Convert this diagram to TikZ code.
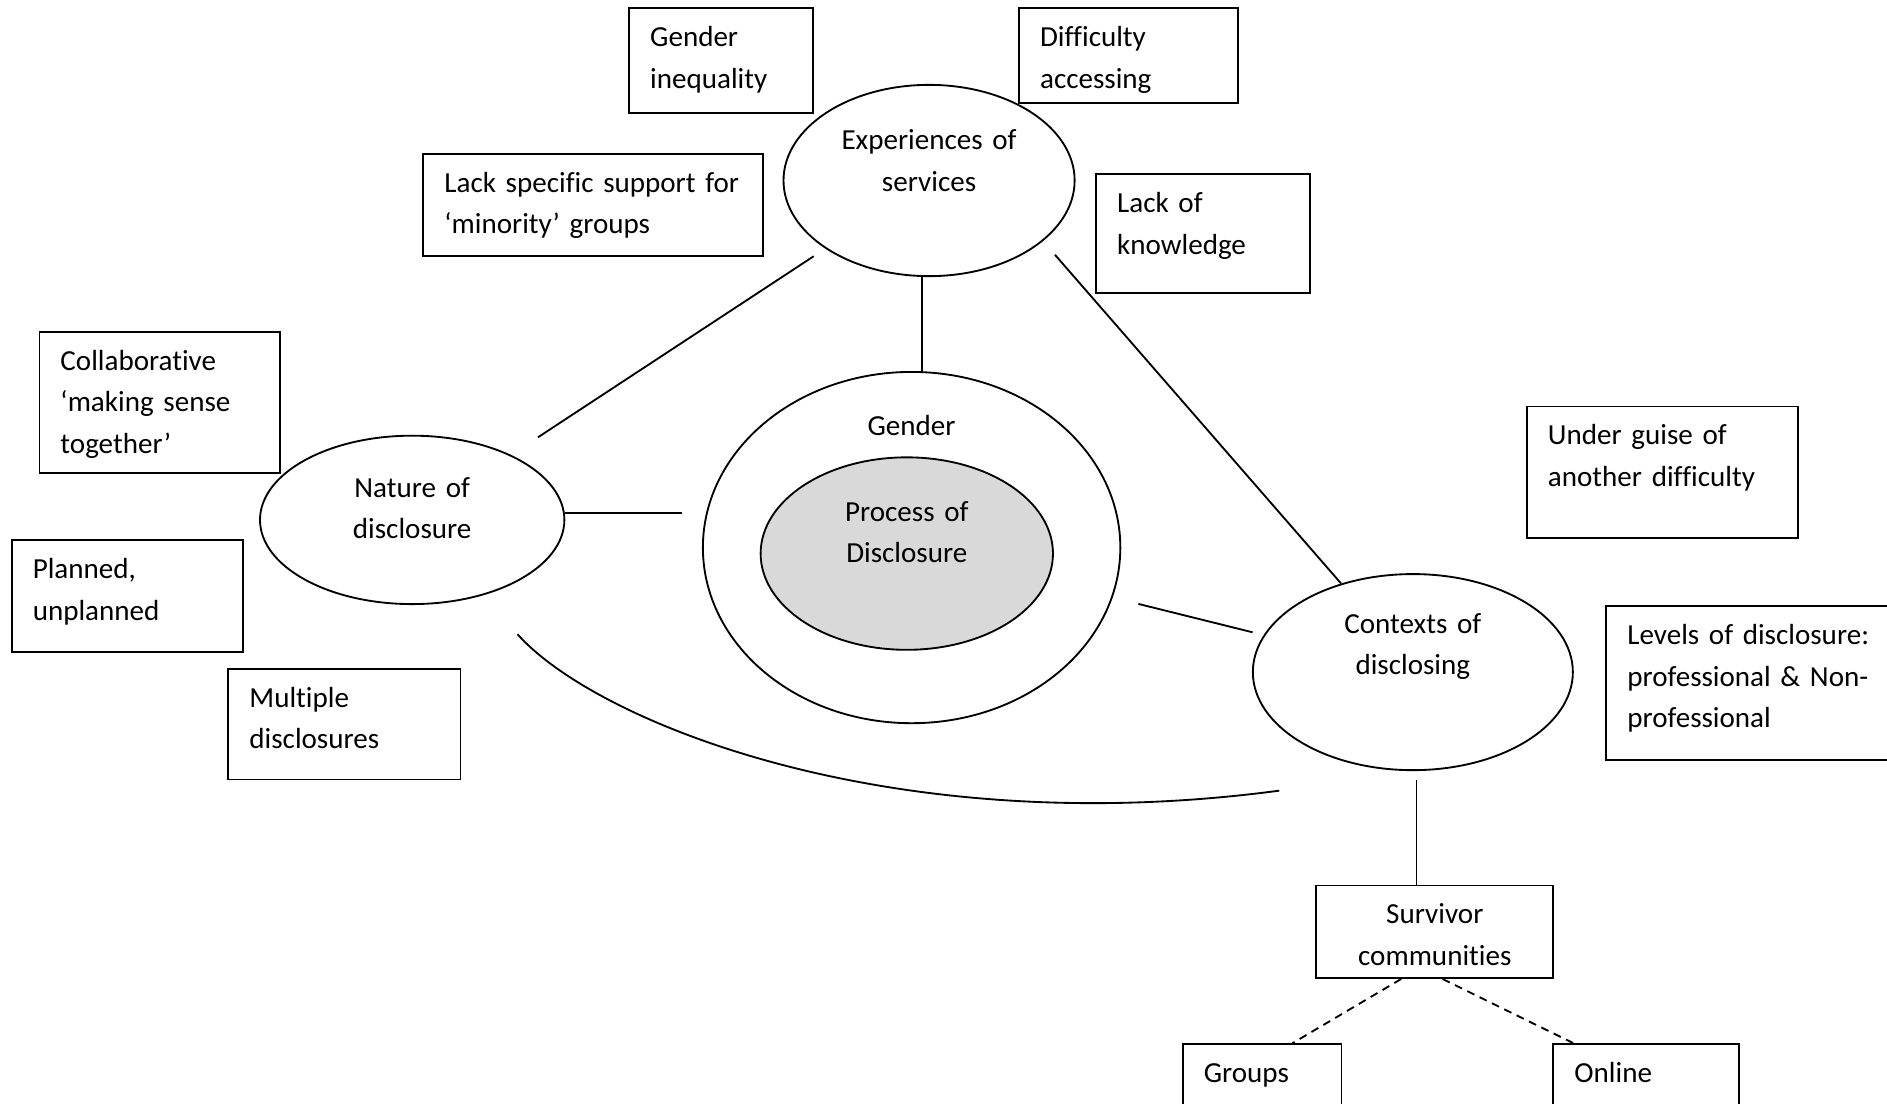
\documentclass[tikz,border=0pt]{standalone}
\usepackage{fontspec}
\setmainfont{Carlito}[Ligatures={TeX,NoCommon}]
\usepackage{tikz}
\usetikzlibrary{shapes.geometric, calc}
\definecolor{procgrey}{RGB}{217,217,217}
\tikzset{
  basefont/.style={font=\fontsize{11pt}{15.7pt}\selectfont},
  notebox/.style={rectangle, draw=black, line width=0.7pt, basefont, anchor=north west,
    align=left, inner xsep=0.28cm, inner ysep=0pt, text height=0.512cm},
  themeoval/.style={ellipse, draw=black, line width=0.7pt, basefont, align=center,
    inner sep=0pt, text height=0.3cm},
  link/.style={line width=0.7pt, color=black},
  dashlink/.style={link, dash pattern=on 3pt off 2.2pt}
}

\begin{document}
\begin{tikzpicture}[x=0.016cm, y=-0.016cm]
  \useasboundingbox (0,0) rectangle (1568,917);
  \clip (0,0) rectangle (1568,917);

  % themes
  \node[themeoval, minimum width=3.872cm, minimum height=2.544cm, text width=2.6cm,
        text depth=1.122cm] (exp) at (772,150) {Experiences of\\services};
  \node[themeoval, minimum width=4.048cm, minimum height=2.24cm, text width=2.4cm,
        text depth=0.898cm] (nat) at (342.5,432) {Nature of\\disclosure};
  \node[themeoval, minimum width=5.552cm, minimum height=4.672cm,
        label={[basefont, anchor=base, yshift=-0.86cm]north:Gender}] (gen) at (757.5,455) {};
  \node[themeoval, fill=procgrey, minimum width=3.888cm, minimum height=2.56cm, text width=2.4cm,
        text depth=1.154cm] (proc) at (753.5,460) {Process of\\Disclosure};
  \node[themeoval, minimum width=4.256cm, minimum height=2.608cm, text width=2.6cm,
        text depth=1.33cm] (ctx) at (1174,558.5) {Contexts of\\disclosing};

  % notes
  \node[notebox, text width=1.888cm, text depth=0.88cm] (gineq) at (522,6) {Gender\\inequality};
  \node[notebox, text width=2.352cm, text depth=0.752cm] (diffacc) at (846,6) {Difficulty\\accessing};
  \node[notebox, text width=3.952cm, text depth=0.848cm] (minority) at (351,127)
        {Lack specific support for\\‘minority’ groups};
  \node[notebox, text width=2.288cm, text depth=1.072cm] (knowl) at (910,144) {Lack of\\knowledge};
  \node[notebox, text width=2.64cm, text depth=1.36cm] (collab) at (32,275)
        {Collaborative\\‘making sense\\together’};
  \node[notebox, text width=2.512cm, text depth=0.976cm] (planned) at (9,448) {Planned,\\unplanned};
  \node[notebox, text width=2.528cm, text depth=0.96cm] (multi) at (189,555) {Multiple\\disclosures};
  \node[notebox, text width=3.04cm, text depth=1.232cm] (guise) at (1268,337)
        {Under guise of\\another difficulty};
  \node[notebox, text width=3.6cm, text depth=1.536cm] (levels) at (1334,503)
        {Levels of disclosure:\\professional \& Non-\\professional};
  \node[notebox, align=center, text width=2.592cm, text depth=0.72cm] (surv) at (1093,735)
        {Survivor\\communities};
  \node[notebox, text width=1.552cm, text depth=0.77cm] (groups) at (982,867) {Groups};
  \node[notebox, text width=1.904cm, text depth=0.77cm] (online) at (1290,867) {Online};

  % links
  \draw[link, shorten <=0.184cm, shorten >=0.426cm] (exp) -- (nat);
  \draw[link] ([xshift=-0.096cm]exp.south) -- ([xshift=-0.096cm]exp.south |- gen.north);
  \draw[link, shorten <=0.24cm] (exp.-28) -- (ctx.129);
  \draw[link, shorten >=0.272cm] ([yshift=0.096cm]nat.east) -- ([yshift=0.096cm]nat.east -| gen.west);
  \draw[link, shorten <=0.352cm, shorten >=0.152cm] (gen) -- (ctx);
  \draw[link, shorten <=0.12cm] ([xshift=0.048cm]ctx.south) -- ([xshift=0.048cm]ctx.south |- surv.north);

  \coordinate (arcL) at (430,527);
  \coordinate (arcR) at (1063,657);
  \draw[link] (arcL) .. controls (495,600) and (740,700) .. (arcR);

  \draw[dashlink] ([xshift=-0.448cm]surv.south) -- ([xshift=0.4cm]groups.north);
  \draw[dashlink] ([xshift=0.104cm]surv.south) -- ([xshift=-0.96cm]online.north);
\end{tikzpicture}
\end{document}
